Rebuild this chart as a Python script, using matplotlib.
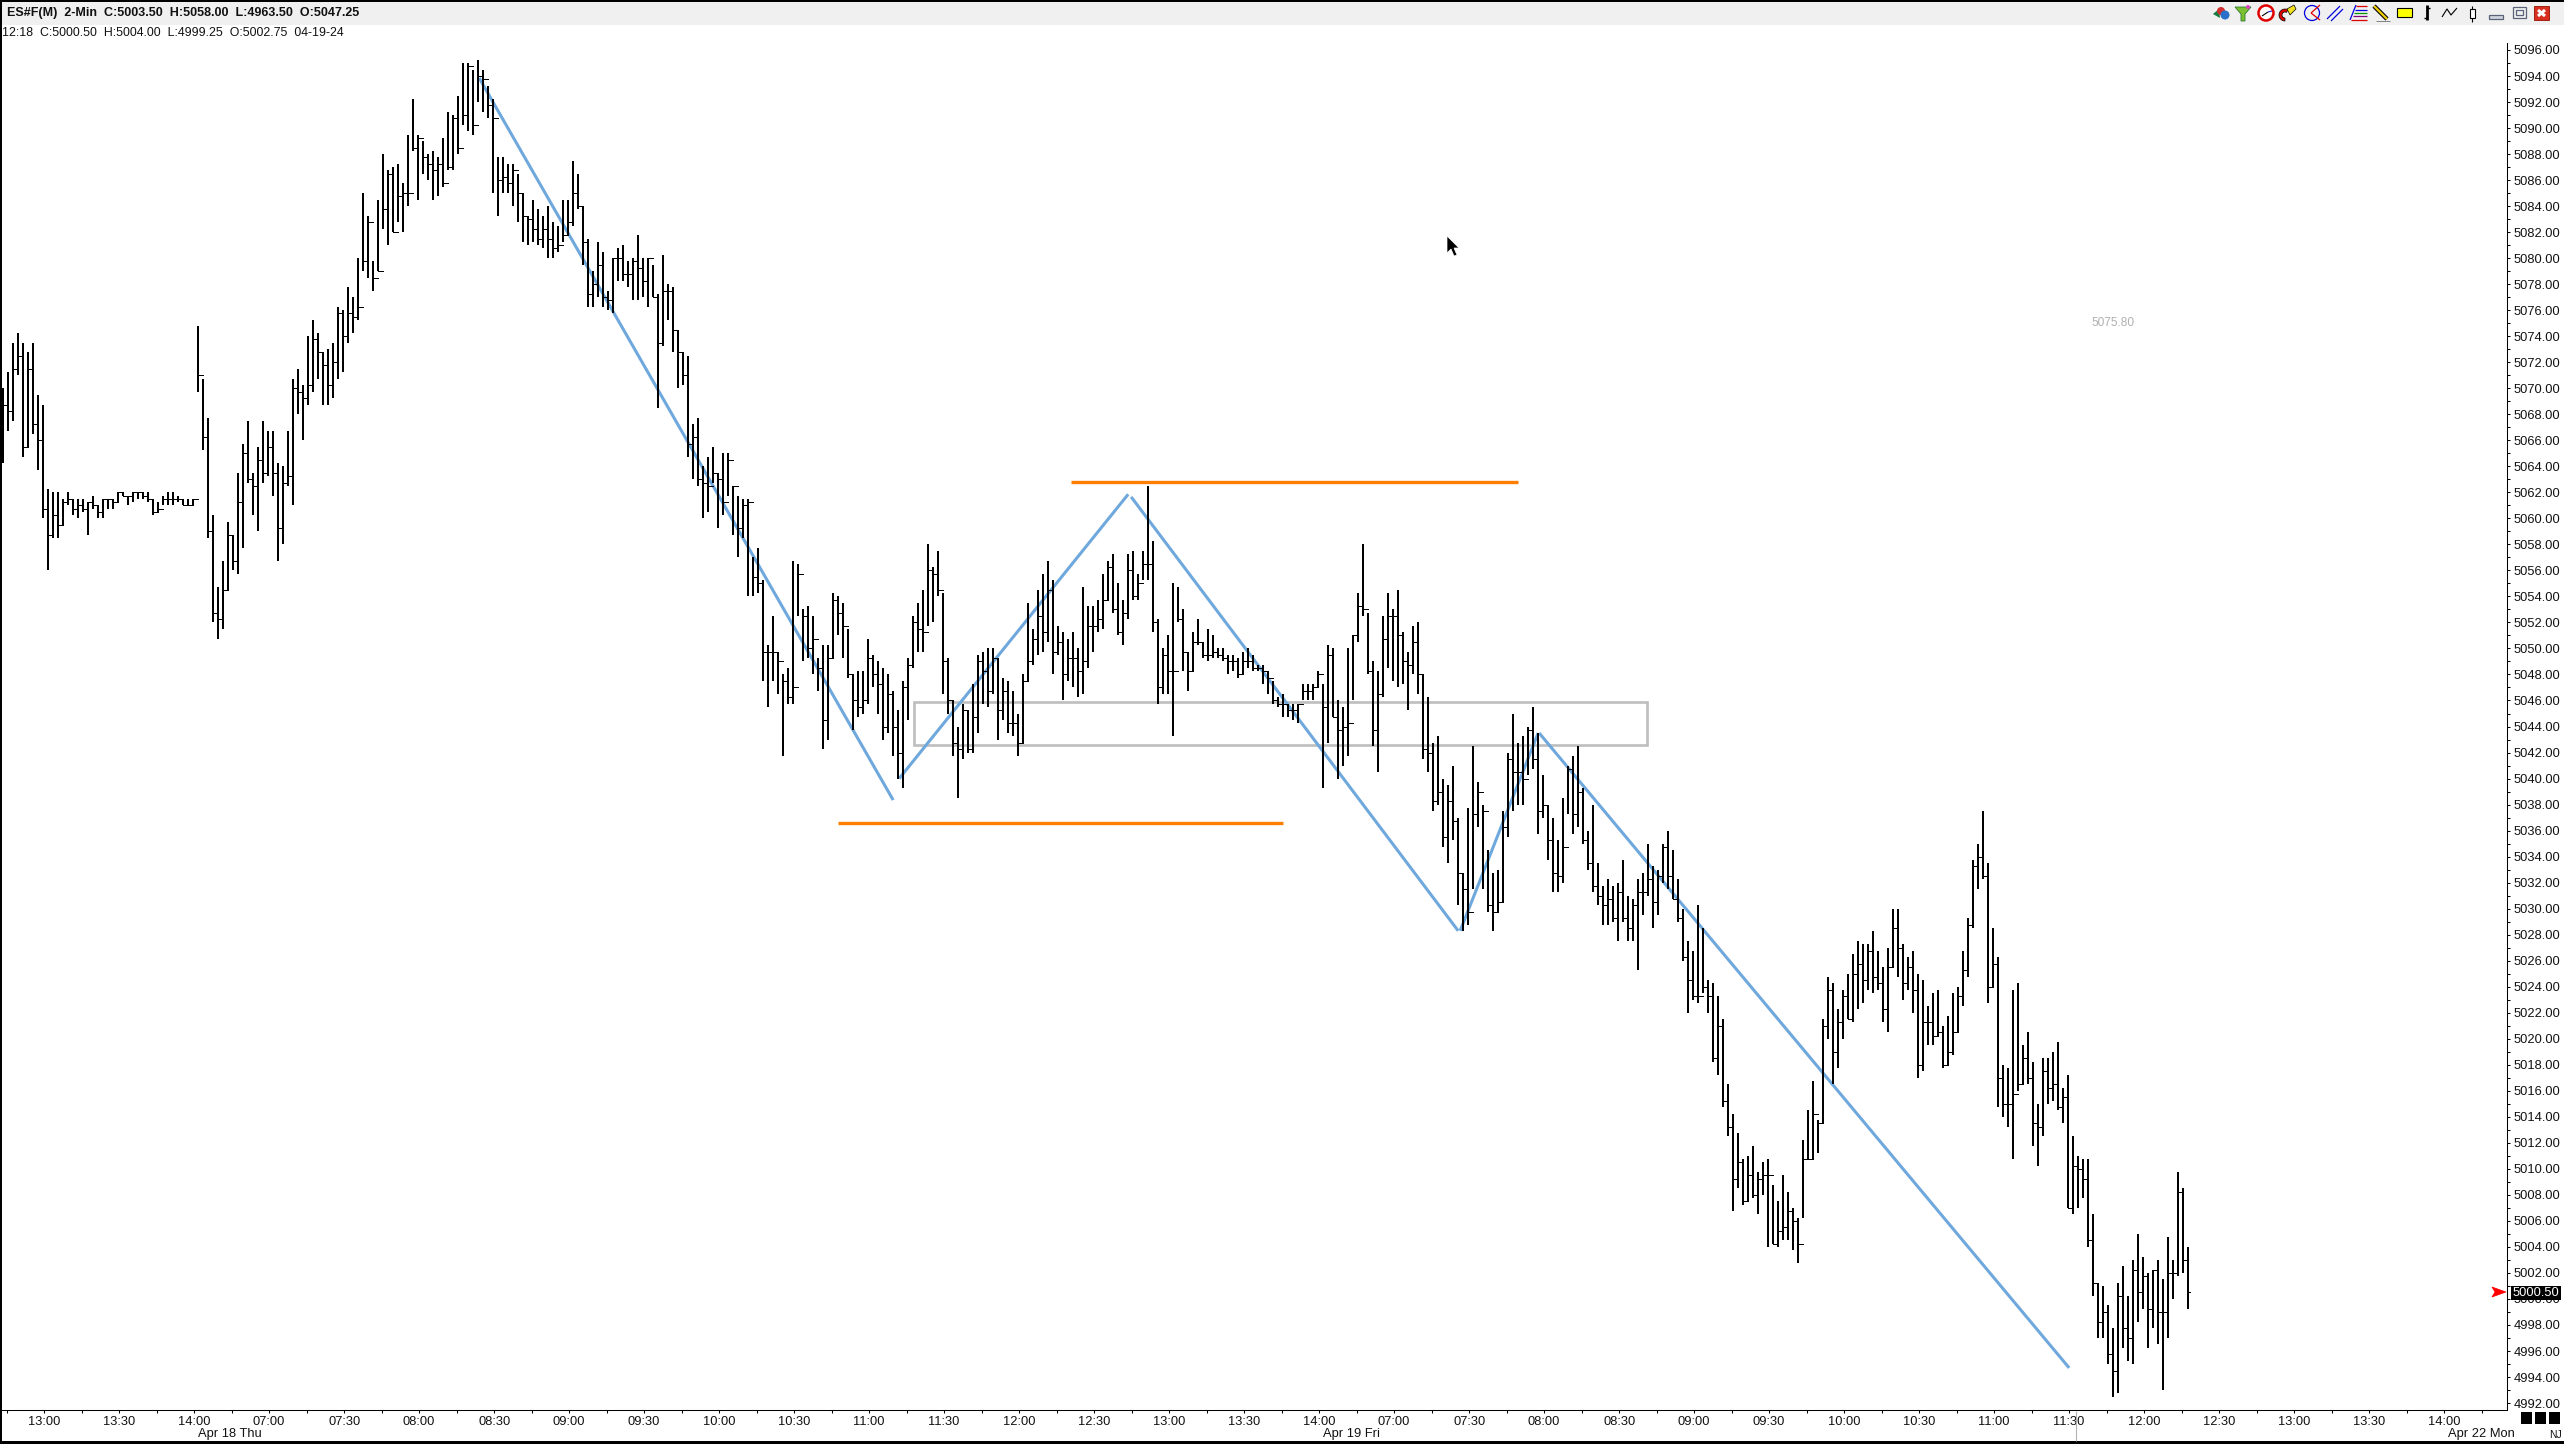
import numpy as np
import matplotlib
matplotlib.use('Agg')
from matplotlib import pyplot as plt
from matplotlib.patches import Rectangle, Polygon, Circle, Wedge

plt.rcParams['font.family'] = ['Liberation Sans', 'DejaVu Sans']

# 2-min bars
highs = [5070,5071.25,5073.5,5074.25,5073.5,5072.75,5073.5,5069.5,5068.75,5062.25,
5062,5062,5061.5,5062,5061.5,5061.5,5061.5,5061.25,5061.75,5061,
5061.5,5061.5,5061.5,5062,5062,5061.75,5062,5062,5062,5062,
5061.5,5061.25,5061.75,5062,5062,5061.75,5061.5,5061.5,5061.5,5074.75,
5070.75,5067.75,5060.25,5054.75,5056.75,5059.75,5058.75,5063.5,5065.75,5067.5,
5063.5,5065.5,5067.5,5066.75,5066.75,5064.25,5064,5066.75,5070.75,5071.5,
5070.25,5074,5075.25,5074.25,5072.75,5073,5073.5,5076.25,5076,5077.75,
5077,5080,5085,5083.25,5079.75,5084.5,5088,5086.75,5087,5087.25,
5085.75,5089.5,5092.25,5089.5,5089,5088,5088.25,5087.75,5089.25,5091.25,
5091,5092.5,5095,5095,5094.5,5095.25,5094.5,5093.25,5092.25,5087.75,
5087.75,5087.25,5087.25,5086.5,5085,5083.25,5084.5,5083.75,5083.25,5084,
5082.75,5082.5,5084.5,5084.5,5087.5,5086.5,5084,5081.5,5079,5081.25,
5080.5,5077.5,5080,5080.75,5081,5079.75,5080,5081.75,5080,5080,
5079.5,5077.25,5080.25,5078,5077.75,5074.5,5072.75,5072.5,5067.25,5067.75,
5064,5064.75,5065.5,5063.5,5065,5065,5062.5,5061.75,5061.5,5061.5,
5057,5057.75,5055.25,5050.25,5052.5,5049.75,5048,5048.5,5056.75,5056.5,
5053,5053.25,5052.5,5049.25,5050.25,5050.25,5054.25,5054,5053.5,5051.5,
5048,5048.25,5048.25,5050.75,5049.5,5049,5048.5,5048,5046.75,5045.25,
5047.5,5049.25,5052.5,5053.5,5054.5,5058,5056.25,5057.5,5054.25,5049.25,
5046,5044,5045.75,5045.25,5047.25,5049.5,5049.75,5050,5050,5049.25,
5047.75,5047.5,5046.75,5045,5048,5053.5,5051.5,5054.5,5055.75,5056.75,
5055.25,5051.75,5051.25,5050.75,5051.25,5050,5054.75,5053.25,5053.25,5053.75,
5055.75,5056.75,5057.25,5055,5053.75,5057.25,5057.5,5055.75,5057.5,5062.5,
5058.25,5052.25,5050,5051,5055,5054.75,5053,5049.75,5051.25,5052.25,
5050.5,5051.5,5051,5050,5050,5049.5,5049.5,5049.25,5049.75,5050,
5049.5,5048.75,5048.75,5048.25,5047.5,5046.25,5046.5,5045.75,5045.75,5045.75,
5047.25,5047.25,5047.25,5048.25,5047.25,5050.25,5050,5046,5045.5,5050,
5051,5054.25,5058,5052.75,5049,5048.25,5052.5,5054.25,5053,5054.5,
5051.25,5049.75,5051.75,5052,5048,5046.25,5042.75,5043.25,5040,5039.5,
5041,5037,5032.75,5037.75,5042.5,5039.75,5038,5034.5,5032.75,5033,
5037.5,5042,5045,5042.75,5043.25,5044,5045.5,5043.5,5040.25,5038,
5037,5035.25,5038.5,5041,5041.75,5042.5,5039.25,5036,5038,5033.5,
5031.75,5032.25,5031.75,5032,5033.75,5031,5030.75,5032.25,5032.75,5035,
5033.25,5033,5035,5036,5034.5,5032.25,5030,5027.5,5026.75,5030.25,
5028.5,5024.5,5024.25,5023.25,5021.5,5016.5,5014.25,5012.75,5010.75,5011,
5011.75,5009.75,5010.5,5010.75,5008.75,5007.5,5009.5,5008.25,5007,5006.25,
5012.25,5014.5,5016.75,5013.75,5021.5,5024.75,5024.25,5022.25,5023.75,5025,
5026.5,5027.5,5027.25,5027.25,5028.25,5026.75,5025.5,5027,5030,5030,
5027.25,5026.25,5026.75,5025,5024.5,5022.5,5023.5,5023.75,5021,5021.75,
5023.5,5024,5026.75,5029.25,5033.75,5035,5037.5,5033.5,5028.5,5026.25,
5018,5017.75,5023.75,5024.25,5019.5,5020.5,5018.25,5015,5018.5,5018.5,
5019,5019.75,5016.25,5017.25,5012.5,5011,5010.75,5010.75,5006.5,5001.25,
5001,4999.5,4997.75,5001.25,5002.5,5000.25,5003,5005,5003.25,5002,
5002.25,5003,5001.5,5004.75,5003,5009.75,5008.5,5004]

lows = [5064.25,5066.75,5067.5,5071,5064.75,5065.5,5066.5,5063.75,5060,5056,
5058.5,5058.5,5059.5,5061,5060.25,5060,5060.5,5058.75,5060.75,5060,
5060,5060.75,5060.75,5061.25,5061.75,5061,5061.25,5061.5,5061.5,5061.25,
5060.25,5060.5,5061,5061,5061,5061.25,5061,5061,5061,5069.75,
5065.25,5058.5,5052,5050.75,5051.5,5054.5,5056,5055.75,5057.75,5062.75,
5060.25,5059,5062.75,5063.25,5061.75,5056.75,5058,5062.5,5061,5068,
5066,5068.75,5069.75,5070.75,5068.75,5068.75,5069.25,5070.75,5071.25,5073.5,
5074.25,5075.25,5079,5078.5,5077.5,5079,5082.25,5081,5082,5082.75,
5082,5084,5088.25,5084.5,5086.5,5086,5084.5,5084.75,5085.5,5086.75,
5086.75,5088,5090.25,5089.75,5089.5,5092,5091.25,5090.75,5085,5083.25,
5085,5085,5084,5082.75,5081.25,5081,5081.25,5081,5080.75,5080,
5080,5080.5,5081.25,5081.75,5082.5,5083.75,5079.5,5076.25,5076.25,5077,
5076.25,5076,5075.75,5078.25,5078.25,5077.75,5076.75,5076.75,5077,5076.25,
5077,5068.5,5073.25,5075.25,5072.75,5070,5070.25,5064.75,5063,5062.5,
5060,5060.5,5062.75,5059.25,5060.25,5061.75,5058.75,5057,5058.5,5054,
5054,5054.25,5047.5,5045.5,5047.5,5046.5,5041.75,5045.75,5045.75,5052.5,
5049,5049.25,5048,5046.75,5042.25,5043,5049.25,5051,5049.25,5047.75,
5043.75,5044.75,5045,5045.75,5047,5045,5043,5043.5,5041.75,5040,
5039.25,5044.5,5048.5,5049.75,5049.75,5051.75,5052,5054,5046.5,5045,
5041.75,5038.5,5041.5,5042,5042,5043.5,5045.75,5045.5,5046.5,5043,
5044.5,5043.5,5043.25,5041.75,5042.75,5047.5,5048.75,5049.5,5049.75,5050.5,
5048,5049.5,5046,5047.5,5047,5046.25,5046.5,5048.5,5049.75,5051.25,
5051.5,5053.75,5052.75,5051,5050.25,5052.25,5053.75,5053.75,5055.25,5055.25,
5051.25,5045.75,5046.5,5046.5,5043.25,5052,5048.25,5046.75,5048.25,5050.25,
5049.25,5049,5049.25,5049.25,5049,5048,5048.25,5047.75,5048,5048.5,
5048.25,5048.25,5047.25,5046.5,5045.75,5045.5,5044.75,5044.75,5044.5,5044.25,
5046,5046,5046,5047,5039.25,5042.75,5044.75,5040,5041,5041.75,
5046,5050.5,5052.5,5048,5042.5,5040.5,5046.25,5048.5,5047.5,5047,
5047.25,5045.25,5048,5046.5,5041.5,5040.5,5037.5,5038,5034.75,5033.5,
5035.25,5030.25,5028.25,5028.75,5031.5,5036.25,5031.5,5029.75,5028.25,5029.75,
5030.5,5035.5,5037.5,5038,5038,5040.25,5040.75,5035.75,5037,5033.75,
5031.25,5031.25,5032,5037.25,5035.75,5036.25,5035,5033,5031.25,5030.25,
5028.75,5028.75,5029,5027.5,5029,5027.5,5027.5,5025.25,5029.5,5031,
5028.5,5029.5,5032,5031.5,5030.75,5029,5026,5022,5023,5022.75,
5023.5,5022,5018.25,5017.25,5014.75,5012.5,5006.75,5008.5,5007.25,5007.5,
5007.75,5006.5,5008,5004,5004.25,5004,5004.5,5004.5,5003.75,5002.75,
5006.25,5010.75,5010.75,5011.25,5013.5,5020,5016.5,5017.75,5020,5021.5,
5021.25,5022.25,5022.75,5023.75,5023.5,5023.75,5021.25,5020.5,5025.5,5024.75,
5023,5023.75,5022,5017,5017.5,5019.5,5019.5,5020.25,5017.75,5018,
5018.75,5020.5,5022.5,5024.75,5028.5,5031.5,5032.25,5022.75,5024,5014.75,
5014,5013.25,5010.75,5016,5016.5,5016.5,5011.75,5010.25,5012.5,5015,
5015.25,5014.5,5013.5,5007,5006.5,5007,5007.75,5004,5000.25,4997,
4997,4995,4992.5,4992.75,4996.25,4995.25,4995,4998.25,4999.25,4996.25,
4997.75,4996.5,4993,4997,5000,5001.75,5002,4999.25]

closes = [5068.75,5068.25,5071.5,5072.5,5065.5,5071.5,5067.25,5066,5060.75,5058.75,
5060.25,5059.5,5061.25,5061.5,5060.75,5061,5060.75,5061.25,5061,5060.5,
5061.5,5061.5,5061.25,5062,5061.75,5061.75,5062,5062,5061.75,5061.5,
5060.5,5060.75,5061.5,5061.5,5061.5,5061.5,5061,5061,5061.5,5071,
5066.25,5059,5052.75,5052.25,5054.5,5058.75,5056.75,5061.25,5065,5063,
5062.5,5064.5,5063.5,5065.5,5063.5,5059.25,5062.75,5063.25,5070,5069.75,
5069.25,5070.25,5073.75,5072.75,5071.75,5070.25,5072,5075.75,5074,5075.75,
5075.5,5076.25,5079.75,5082.75,5078.5,5079,5083.75,5086.5,5082,5084.75,
5085,5085,5088.5,5089.25,5087.75,5087.25,5086.75,5087.25,5085.75,5087,
5090.75,5088.5,5091,5094.75,5090.25,5094,5093.75,5091.75,5090.75,5086,
5086.25,5085.75,5086.75,5085,5083.25,5083,5082.25,5081.5,5082.25,5081.5,
5080.75,5081,5081.75,5082.75,5085,5084,5081.25,5077.25,5078,5079.5,
5077,5076.75,5080,5080,5078.75,5078.75,5079.75,5079.25,5078.25,5080,
5077,5073.5,5077.5,5077.5,5074.5,5072.75,5071,5065.75,5066.25,5063,
5062.75,5062.5,5063.5,5063,5061.25,5064.5,5062.5,5059.25,5061,5061.25,
5055.5,5055,5049.75,5049.75,5049.75,5049,5047.5,5046.25,5047,5055.75,
5052.5,5050,5050.75,5048.5,5044.5,5049.25,5053.75,5052.75,5051.75,5048,
5046,5045.5,5046,5049.25,5048,5047.25,5044,5046.5,5044,5042,
5047,5048.75,5052,5051.5,5051.25,5056,5055.75,5054.5,5049,5046,
5042.75,5042.25,5045.25,5042.25,5044.75,5049,5048.25,5046.75,5049.25,5045.25,
5046.75,5044.25,5044.25,5042.75,5047.5,5049,5050.75,5052.5,5051.25,5054.5,
5049.75,5050.5,5048,5049.25,5049.25,5048.25,5049,5051.75,5051.75,5052.25,
5053.75,5056.25,5053,5051.25,5052.75,5056,5054,5055,5056.5,5056.5,
5052,5047,5049.5,5048.25,5048.25,5052.25,5049.75,5048.25,5050.5,5050.5,
5049.5,5049.5,5049.75,5049.5,5049.25,5049,5049,5048,5049,5049,
5048.5,5048.5,5048.25,5047.75,5046,5045.75,5045.75,5045.25,5045.25,5045.75,
5046.75,5046.75,5047,5048,5045.5,5049.5,5044.75,5043.75,5044,5044.25,
5051,5053.25,5053,5048.25,5043.75,5046.5,5050.75,5052.5,5052.5,5051,
5049,5048.75,5050.5,5048,5042.25,5042,5038.25,5039,5035.5,5038.25,
5036.75,5032.75,5031.5,5029.75,5037.25,5039,5037.5,5030.25,5029.75,5030.5,
5036.25,5041.5,5040.5,5040.5,5040,5043.75,5041.5,5037.5,5038,5035.25,
5032.75,5032.5,5034.75,5040.75,5037.25,5039,5035.25,5033.5,5031.75,5031,
5030.25,5030.75,5029.25,5031.25,5029.25,5028.5,5030.25,5031.25,5031.25,5032.25,
5030.5,5032.5,5034.75,5032.5,5030.75,5029.25,5026.25,5024.5,5023.25,5023.25,
5024,5023.25,5018.5,5021,5015.25,5013.25,5009.25,5010.5,5007.5,5009.5,
5008,5009.25,5009.5,5009.5,5004.25,5005.25,5005.5,5006.75,5006,5004.25,
5010.75,5010.75,5014.25,5013.5,5021,5023.75,5019,5021.25,5023.25,5021.5,
5025,5025.75,5024.5,5026.75,5024.75,5024.25,5022.25,5025.5,5028.5,5027,
5024.25,5025.5,5023.75,5018,5021.25,5021.25,5020.25,5020.5,5018,5019,
5020.5,5023.25,5025.25,5028.75,5033.25,5034,5032.5,5024,5025.75,5017,
5015,5015,5015.75,5016.5,5018.5,5017,5013.5,5013.25,5017.5,5016.25,
5016.5,5014.75,5015.5,5007,5010.25,5010,5009.25,5004.5,5001.25,4998.25,
4999,4995.75,4994.5,5000.25,4997.75,4997,5002.25,5000.5,5001.75,4999.25,
5002.25,4999,4999,5002,5002,5008.25,5003,5000.5]

price_ticks = list(range(4992, 5097, 2))
time_labels = ['13:00','13:30','14:00','07:00','07:30','08:00','08:30','09:00','09:30','10:00','10:30',
               '11:00','11:30','12:00','12:30','13:00','13:30','14:00','07:00','07:30','08:00','08:30',
               '09:00','09:30','10:00','10:30','11:00','11:30','12:00','12:30','13:00','13:30','14:00']

# drawn objects on the chart: (bar, price) pairs
trend_lines = [[(95.3, 5093.85), (178.1, 5038.35)],
               [(179.3, 5040.0), (225.1, 5061.85)],
               [(225.7, 5061.65), (291.1, 5028.3)],
               [(291.5, 5028.3), (307.1, 5043.5)],
               [(307.3, 5043.5), (413.3, 4994.7)]]
level_lines = [[(213.7, 5062.83), (303.0, 5062.83)],
               [(167.0, 5036.56), (256.1, 5036.56)]]
zone = (182.3, 328.9, 5042.56, 5045.9)

W, H = 2564, 1444
fig = plt.figure(figsize=(W / 100, H / 100), dpi=100, facecolor='white')

# main chart, x is bar number and y is price
ax = fig.add_axes([0, (H - 1410) / H, 2507 / W, (1410 - 43) / H])
ax.set_xlim(-0.534, 500.87)
ax.set_ylim(5096 - 1360 / 13.01, 5096 + 7 / 13.01)

x = np.arange(len(highs))
c = np.array(closes)

ax.add_patch(Rectangle((zone[0], zone[2]), zone[1] - zone[0], zone[3] - zone[2], fill=False,
                       ec='#bebebe', lw=1.9, zorder=1))
for (x0, y0), (x1, y1) in trend_lines:
    ax.plot([x0, x1], [y0, y1], color='#6fa8dc', lw=2.2, solid_capstyle='butt', zorder=2)
for (x0, y0), (x1, y1) in level_lines:
    ax.plot([x0, x1], [y0, y1], color='#ff8000', lw=2.4, solid_capstyle='butt', zorder=2)

ax.vlines(x, lows, highs, color='black', lw=1.44, antialiased=False, zorder=3)
ax.hlines(c, x, x + 0.38, color='black', lw=0.6, antialiased=False, zorder=3)
ax.hlines(c[:-1], x[1:] - 0.38, x[1:], color='black', lw=0.6, antialiased=False, zorder=3)

# price axis
ax.yaxis.tick_right()
ax.set_yticks(price_ticks)
ax.set_yticklabels(['%.2f' % p for p in price_ticks], fontsize=9.3, color='#111111')
ax.set_yticks(np.arange(4993, 5096, 2), minor=True)
ax.tick_params(axis='y', which='major', length=2.5, width=0.75, pad=2.5)
ax.tick_params(axis='y', which='minor', length=2, width=0.75)

# time axis
major_x = 8.3 + 15 * np.arange(len(time_labels))
ax.set_xticks(major_x)
ax.set_xticklabels(time_labels, fontsize=9.3, color='#111111')
ax.set_xticks(np.arange(0.8, 500, 15), minor=True)
ax.tick_params(axis='x', which='major', length=2.5, width=0.75, pad=1.5)
ax.tick_params(axis='x', which='minor', length=2.5, width=0.75)

ax.spines['top'].set_visible(False)
ax.spines['left'].set_visible(False)
ax.spines['right'].set_linewidth(0.75)
ax.spines['bottom'].set_linewidth(0.75)

# window frame, toolbar and labels, in screen pixels
top = fig.add_axes([0, 0, 1, 1], facecolor='none')
top.set_xlim(0, W)
top.set_ylim(H, 0)
top.axis('off')


def box(x0, y0, x1, y1, fc='none', ec='none', lw=0.75, z=6):
    top.add_patch(Rectangle((x0, y0), x1 - x0, y1 - y0, fc=fc, ec=ec, lw=lw, zorder=z))


def line(xs, ys, color='black', lw=0.9, z=7):
    top.plot(xs, ys, color=color, lw=lw, zorder=z, solid_capstyle='butt')


box(0, 0, W, 25, fc='#f0f0f0')
box(0, 0, W, 1.5, fc='black')
box(0, 0, 2, H, fc='black')
box(0, H - 3, W, H, fc='black')
line([2076, 2076], [1411, 1441], color='#b4b4b4', lw=0.8)

top.text(7, 13, 'ES#F(M)  2-Min  C:5003.50  H:5058.00  L:4963.50  O:5047.25', fontsize=9,
         fontweight='bold', color='#111111', va='center', ha='left', zorder=8)
top.text(2.5, 33.5, '12:18  C:5000.50  H:5004.00  L:4999.25  O:5002.75  04-19-24', fontsize=8.9,
         color='#111111', va='center', ha='left', zorder=8)
top.text(2113, 323, '5075.80', fontsize=8.6, color='#b0b0b0', va='center', ha='center', zorder=8)

for txt, px in [('Apr 18 Thu', 229.5), ('Apr 19 Fri', 1351), ('Apr 22 Mon', 2481)]:
    top.text(px, 1434, txt, fontsize=9.3, color='#111111', va='center', ha='center', zorder=8)

# last price box and arrow
box(2511, 1286, 2561, 1300, fc='black', z=8)
top.text(2536, 1293, '5000.50', fontsize=9.3, color='white', va='center', ha='center', zorder=9)
top.add_patch(Polygon([(2492, 1287), (2506, 1292), (2492, 1297), (2495, 1292)], fc='red', ec='red', lw=0.5, zorder=8))

# bottom right squares
for x0 in [2520.5, 2534.5, 2548.5]:
    box(x0, 1412, x0 + 11.5, 1424, fc='black')
top.text(2555, 1435.5, 'NJ', fontsize=7.5, color='#111111', va='center', ha='center', zorder=8)

# mouse pointer
top.add_patch(Polygon([(1447, 236), (1447, 253), (1451, 249), (1454, 256), (1457, 255), (1454, 248), (1459, 248)],
                      fc='black', ec='white', lw=0.5, zorder=9))

# toolbar icons
top.add_patch(Polygon([(2213, 14), (2219, 9), (2220, 18)], fc='#117a3c', zorder=7))
top.add_patch(Circle((2221, 11), 4, fc='#d03030', zorder=7))
top.add_patch(Circle((2225, 15), 4.5, fc='#2a70c8', zorder=7))

top.add_patch(Polygon([(2235, 7), (2251, 7), (2245, 14), (2245, 21), (2241, 21), (2241, 14)], fc='#7ac030',
                      ec='#2a7a2a', lw=0.6, zorder=7))
top.add_patch(Circle((2248, 7), 2, fc='#e040c0', zorder=8))

top.add_patch(Circle((2266, 13), 7.5, fc='white', ec='#e00000', lw=1.8, zorder=7))
line([2262, 2268], [16, 12], color='black', lw=0.8, z=8)
line([2268, 2272], [12, 11], color='#2020d0', lw=0.8, z=8)

top.add_patch(Wedge((2285, 15), 6, 90, 300, width=3, fc='#e00000', ec='black', lw=0.5, zorder=7))
top.add_patch(Polygon([(2287, 9), (2294, 5), (2296, 9), (2290, 15)], fc='#f0e020', ec='black', lw=0.5, zorder=7))

top.add_patch(Circle((2312, 13), 7.5, fc='none', ec='#0000e0', lw=0.9, zorder=7))
line([2311, 2320], [13, 5], color='#e00000', lw=0.9)
line([2311, 2320], [13, 20], color='#e00000', lw=0.9)

line([2327, 2340], [19, 6], color='#0000e0', lw=0.9)
line([2331, 2343], [21, 9], color='#0000e0', lw=0.9)

line([2350, 2356], [20, 5], color='#0000e0', lw=0.9)
line([2356, 2367], [6, 6], color='#e00000', lw=0.9)
line([2355, 2367], [10, 10], color='#0000e0', lw=0.9)
line([2354, 2367], [13, 13], color='#009000', lw=0.9)
line([2353, 2367], [16, 16], color='#800080', lw=0.9)
line([2351, 2367], [20, 20], color='#e00000', lw=0.9)

line([2374, 2387], [6, 19], color='black', lw=3.2)
line([2374, 2387], [6, 19], color='#f0d000', lw=1.6, z=8)
line([2376, 2390], [21, 21], color='#808080', lw=0.7)

box(2397, 8, 2412, 17, fc='#ffff00', ec='black', lw=0.8, z=7)

line([2427, 2427], [5, 20], color='black', lw=2)
line([2424, 2427], [18, 18], color='black', lw=1)
line([2427, 2430], [8, 8], color='black', lw=1)

line([2442, 2447, 2451, 2457], [17, 9, 15, 8], color='black', lw=0.8)

line([2472, 2472], [6, 22], color='black', lw=0.8)
box(2470, 9, 2475, 18, fc='white', ec='black', lw=0.8, z=8)

box(2489, 15, 2503, 19, fc='#d0d4dc', ec='#5a6478', lw=0.9, z=7)
box(2513, 7, 2526, 18, fc='#f0f0f0', ec='#5a6478', lw=0.9, z=7)
box(2516, 10, 2523, 15, fc='#f0f0f0', ec='#5a6478', lw=0.9, z=7)

box(2534, 6, 2549, 20, fc='#d83020', ec='#a02010', lw=0.7, z=7)
line([2538, 2545], [10, 16], color='white', lw=2.2, z=8)
line([2545, 2538], [10, 16], color='white', lw=2.2, z=8)

fig.savefig('out.png', dpi=100)
